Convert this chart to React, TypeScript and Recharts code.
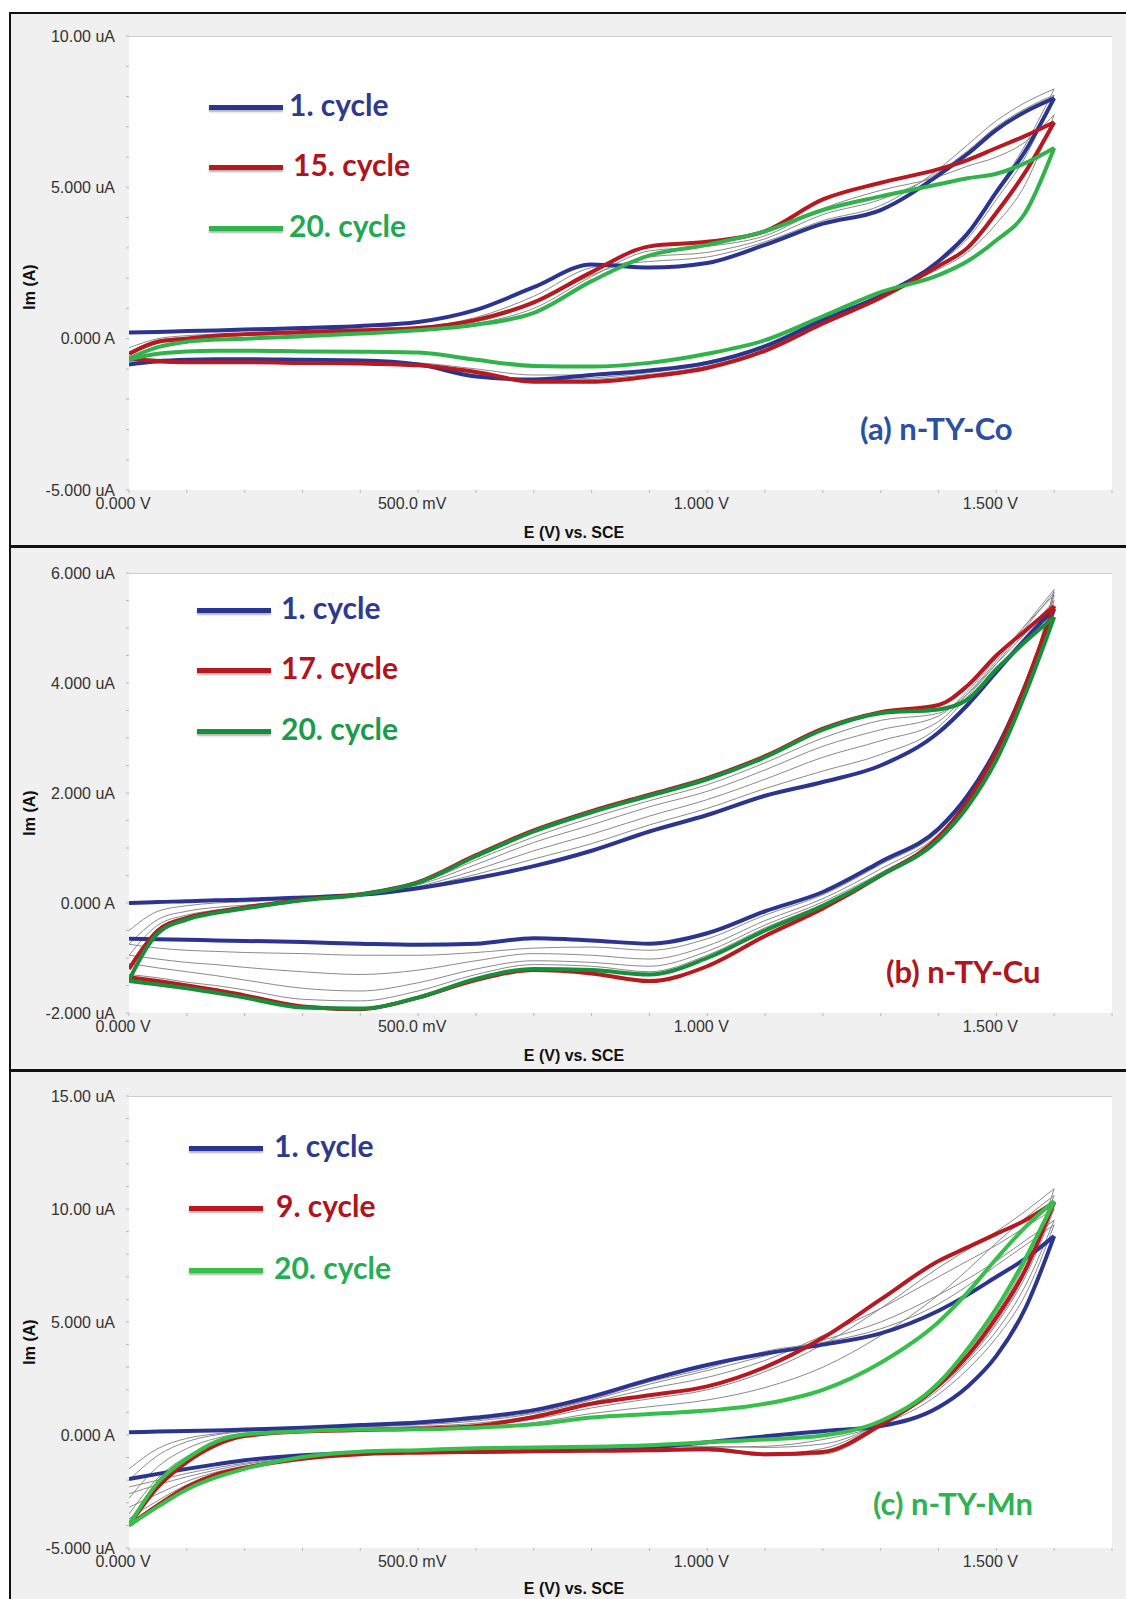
import { LineChart, Line, XAxis, YAxis } from 'recharts';

// potential grid (V) shared by every branch
const potential = [0, 0.05, 0.1, 0.15, 0.2, 0.3, 0.4, 0.5, 0.6, 0.7, 0.8, 0.9, 1.0, 1.1, 1.2, 1.3, 1.4, 1.45, 1.5, 1.55, 1.6];

const eTicks = [0, 0.1, 0.2, 0.3, 0.4, 0.5, 0.6, 0.7, 0.8, 0.9, 1.0, 1.1, 1.2, 1.3, 1.4, 1.5, 1.6, 1.7];
const eLabelValues = [0, 0.5, 1, 1.5];
const eLabels = ['0.000 V', '500.0 mV', '1.000 V', '1.500 V'];

// (a) n-TY-Co, current in uA
const coC1Fwd = [0.2, 0.22, 0.25, 0.27, 0.3, 0.35, 0.42, 0.55, 0.95, 1.7, 2.45, 2.35, 2.5, 3.1, 3.8, 4.25, 5.4, 6.1, 6.9, 7.5, 7.95];
const coC1Rev = [-0.85, -0.75, -0.7, -0.68, -0.68, -0.7, -0.72, -0.85, -1.25, -1.35, -1.2, -1.05, -0.8, -0.25, 0.63, 1.42, 2.56, 3.47, 4.84, 6.2, 7.95];
const coC15Fwd = [-0.5, -0.1, 0.0, 0.1, 0.15, 0.22, 0.28, 0.35, 0.62, 1.2, 2.2, 3.05, 3.2, 3.55, 4.6, 5.15, 5.6, 5.9, 6.3, 6.7, 7.15];
const coC15Rev = [-0.65, -0.75, -0.78, -0.78, -0.78, -0.8, -0.82, -0.88, -1.1, -1.42, -1.42, -1.25, -0.97, -0.4, 0.5, 1.35, 2.4, 3.0, 4.16, 5.5, 7.15];
const coC20Fwd = [-0.65, -0.28, -0.1, -0.03, 0.0, 0.08, 0.17, 0.28, 0.46, 0.85, 1.9, 2.75, 3.1, 3.55, 4.25, 4.7, 5.1, 5.3, 5.45, 5.8, 6.3];
const coC20Rev = [-0.68, -0.5, -0.42, -0.4, -0.4, -0.42, -0.43, -0.46, -0.7, -0.9, -0.92, -0.8, -0.5, -0.05, 0.74, 1.54, 2.1, 2.56, 3.25, 4.16, 6.3];
const coG1Fwd = [-0.3, 0.0, 0.1, 0.15, 0.18, 0.22, 0.28, 0.38, 0.7, 1.4, 2.35, 2.55, 2.7, 3.2, 3.9, 4.4, 5.6, 6.4, 7.2, 7.8, 8.25];
const coG1Rev = [-0.75, -0.8, -0.8, -0.8, -0.8, -0.82, -0.85, -0.92, -1.2, -1.38, -1.3, -1.12, -0.85, -0.3, 0.6, 1.45, 2.6, 3.5, 4.9, 6.4, 8.25];
const coG2Fwd = [-0.45, -0.05, 0.05, 0.1, 0.13, 0.18, 0.24, 0.32, 0.55, 1.15, 2.1, 2.7, 2.85, 3.3, 4.1, 4.6, 5.5, 6.2, 7.0, 7.6, 8.05];
const coG2Rev = [-0.7, -0.78, -0.8, -0.8, -0.8, -0.82, -0.84, -0.9, -1.15, -1.4, -1.35, -1.18, -0.9, -0.35, 0.55, 1.4, 2.5, 3.3, 4.6, 6.0, 8.05];
const coG3Fwd = [-0.55, -0.15, -0.02, 0.05, 0.1, 0.15, 0.22, 0.3, 0.5, 1.0, 2.05, 2.9, 3.05, 3.4, 4.3, 4.9, 5.35, 5.7, 6.0, 6.5, 7.4];
const coG3Rev = [-0.65, -0.68, -0.7, -0.7, -0.7, -0.72, -0.75, -0.8, -1.0, -1.2, -1.2, -1.05, -0.75, -0.25, 0.6, 1.45, 2.3, 2.85, 3.8, 5.1, 7.4];
const coYTicks = [-5, -4, -3, -2, -1, 0, 1, 2, 3, 4, 5, 6, 7, 8, 9, 10];
const coYLabelValues = [-5, 0, 5, 10];
const coYLabels = ['-5.000 uA', '0.000 A', '5.000 uA', '10.00 uA'];

// (b) n-TY-Cu
const cuC1Fwd = [0.0, 0.02, 0.03, 0.05, 0.06, 0.1, 0.15, 0.27, 0.45, 0.67, 0.95, 1.3, 1.6, 1.95, 2.2, 2.5, 3.1, 3.6, 4.2, 4.8, 5.35];
const cuC1Rev = [-0.65, -0.66, -0.67, -0.68, -0.69, -0.71, -0.74, -0.76, -0.74, -0.64, -0.68, -0.74, -0.55, -0.15, 0.2, 0.75, 1.35, 1.95, 2.8, 3.95, 5.35];
const cuC17Fwd = [-1.2, -0.5, -0.27, -0.16, -0.08, 0.06, 0.16, 0.38, 0.87, 1.32, 1.67, 1.97, 2.27, 2.67, 3.17, 3.47, 3.6, 3.95, 4.5, 4.95, 5.4];
const cuC17Rev = [-1.35, -1.42, -1.5, -1.58, -1.68, -1.88, -1.93, -1.72, -1.4, -1.22, -1.28, -1.42, -1.15, -0.6, -0.1, 0.5, 1.2, 1.85, 2.75, 3.95, 5.4];
const cuC20Fwd = [-1.4, -0.55, -0.3, -0.18, -0.1, 0.05, 0.15, 0.37, 0.85, 1.3, 1.65, 1.95, 2.25, 2.65, 3.15, 3.45, 3.52, 3.7, 4.25, 4.75, 5.2];
const cuC20Rev = [-1.42, -1.48, -1.55, -1.63, -1.72, -1.9, -1.92, -1.72, -1.38, -1.2, -1.22, -1.3, -1.0, -0.5, -0.05, 0.5, 1.15, 1.75, 2.6, 3.8, 5.2];
const cuG1Fwd = [-0.5, -0.15, -0.05, 0.0, 0.02, 0.08, 0.14, 0.28, 0.52, 0.8, 1.08, 1.42, 1.72, 2.08, 2.4, 2.7, 3.2, 3.75, 4.35, 5.0, 5.65];
const cuG1Rev = [-0.75, -0.82, -0.86, -0.88, -0.9, -0.92, -0.95, -0.95, -0.9, -0.82, -0.8, -0.86, -0.65, -0.22, 0.15, 0.7, 1.3, 1.9, 2.75, 3.9, 5.65];
const cuG2Fwd = [-0.75, -0.3, -0.15, -0.08, -0.04, 0.05, 0.14, 0.3, 0.6, 0.95, 1.25, 1.58, 1.88, 2.25, 2.65, 2.95, 3.3, 3.8, 4.4, 5.05, 5.7];
const cuG2Rev = [-0.95, -1.02, -1.08, -1.12, -1.17, -1.25, -1.3, -1.22, -1.05, -0.92, -0.95, -1.02, -0.78, -0.32, 0.08, 0.62, 1.25, 1.85, 2.7, 3.88, 5.7];
const cuG3Fwd = [-0.95, -0.4, -0.22, -0.13, -0.07, 0.05, 0.15, 0.33, 0.7, 1.1, 1.42, 1.75, 2.03, 2.42, 2.85, 3.15, 3.4, 3.85, 4.45, 5.05, 5.6];
const cuG3Rev = [-1.1, -1.18, -1.25, -1.32, -1.4, -1.55, -1.6, -1.45, -1.2, -1.05, -1.08, -1.15, -0.88, -0.4, 0.02, 0.55, 1.2, 1.8, 2.65, 3.85, 5.6];
const cuG4Fwd = [-1.15, -0.48, -0.27, -0.16, -0.09, 0.05, 0.15, 0.35, 0.78, 1.2, 1.55, 1.86, 2.15, 2.55, 3.0, 3.32, 3.45, 3.8, 4.35, 4.9, 5.5];
const cuG4Rev = [-1.3, -1.36, -1.44, -1.5, -1.58, -1.75, -1.78, -1.6, -1.3, -1.12, -1.15, -1.25, -0.95, -0.45, -0.02, 0.52, 1.18, 1.78, 2.65, 3.85, 5.5];
const cuYTicks = [-2, -1.5, -1, -0.5, 0, 0.5, 1, 1.5, 2, 2.5, 3, 3.5, 4, 4.5, 5, 5.5, 6];
const cuYLabelValues = [-2, 0, 2, 4, 6];
const cuYLabels = ['-2.000 uA', '0.000 A', '2.000 uA', '4.000 uA', '6.000 uA'];

// (c) n-TY-Mn
const mnC1Fwd = [0.12, 0.15, 0.18, 0.2, 0.24, 0.32, 0.44, 0.55, 0.77, 1.1, 1.7, 2.45, 3.1, 3.6, 4.0, 4.5, 5.5, 6.2, 7.0, 7.8, 8.8];
const mnC1Rev = [-1.95, -1.72, -1.5, -1.3, -1.12, -0.9, -0.78, -0.75, -0.74, -0.7, -0.65, -0.55, -0.32, -0.06, 0.17, 0.4, 1.23, 2.14, 3.5, 5.6, 8.8];
const mnC9Fwd = [-4.0, -2.3, -1.2, -0.45, -0.05, 0.15, 0.22, 0.28, 0.4, 0.8, 1.38, 1.76, 2.15, 3.0, 4.3, 6.0, 7.7, 8.3, 8.9, 9.5, 10.3];
const mnC9Rev = [-4.0, -3.1, -2.3, -1.75, -1.45, -1.05, -0.85, -0.78, -0.75, -0.72, -0.7, -0.68, -0.62, -0.85, -0.75, 0.45, 2.2, 3.5, 5.2, 7.3, 10.3];
const mnC20Fwd = [-4.0, -2.1, -1.05, -0.3, 0.02, 0.17, 0.24, 0.25, 0.32, 0.47, 0.77, 0.93, 1.08, 1.38, 2.0, 3.2, 5.0, 6.3, 7.8, 9.2, 10.35];
const mnC20Rev = [-4.0, -3.17, -2.41, -1.88, -1.5, -0.97, -0.74, -0.67, -0.59, -0.55, -0.52, -0.45, -0.32, -0.2, -0.02, 0.62, 2.3, 3.8, 5.6, 7.8, 10.35];
const mnG1Fwd = [-2.0, -0.9, -0.3, 0.0, 0.15, 0.25, 0.35, 0.45, 0.62, 0.95, 1.55, 2.25, 2.85, 3.5, 4.2, 5.0, 6.2, 6.9, 7.7, 8.6, 9.5];
const mnG1Rev = [-2.6, -2.2, -1.85, -1.55, -1.3, -1.0, -0.85, -0.8, -0.78, -0.75, -0.72, -0.7, -0.7, -0.85, -0.6, 0.5, 2.0, 3.2, 4.6, 6.6, 9.5];
const mnG2Fwd = [-2.8, -1.4, -0.6, -0.15, 0.08, 0.2, 0.3, 0.38, 0.52, 0.85, 1.45, 2.05, 2.55, 3.3, 4.4, 5.6, 7.0, 7.7, 8.4, 9.2, 10.0];
const mnG2Rev = [-3.2, -2.6, -2.05, -1.65, -1.38, -1.02, -0.87, -0.8, -0.77, -0.73, -0.7, -0.68, -0.7, -0.9, -0.8, 0.4, 2.1, 3.3, 4.9, 7.0, 10.0];
const mnG3Fwd = [-3.5, -1.9, -0.95, -0.35, -0.02, 0.16, 0.25, 0.3, 0.42, 0.7, 1.2, 1.6, 2.0, 2.8, 4.0, 5.6, 7.4, 8.2, 9.0, 9.9, 10.9];
const mnG3Rev = [-3.7, -2.9, -2.2, -1.7, -1.42, -1.02, -0.85, -0.78, -0.75, -0.72, -0.7, -0.68, -0.68, -0.92, -0.85, 0.35, 2.15, 3.4, 5.0, 7.2, 10.9];
const mnG4Fwd = [-1.5, -0.6, -0.15, 0.05, 0.18, 0.28, 0.38, 0.48, 0.68, 1.0, 1.6, 2.35, 2.95, 3.7, 4.1, 4.7, 5.8, 6.6, 7.5, 8.4, 9.3];
const mnG4Rev = [-2.3, -2.0, -1.7, -1.45, -1.25, -0.95, -0.82, -0.78, -0.76, -0.73, -0.7, -0.65, -0.55, -0.5, -0.2, 0.45, 1.8, 2.9, 4.3, 6.2, 9.3];
const mnG5Fwd = [-3.8, -2.2, -1.1, -0.35, 0.0, 0.16, 0.23, 0.27, 0.36, 0.55, 0.95, 1.25, 1.55, 2.1, 3.0, 4.4, 6.2, 7.3, 8.5, 9.6, 10.6];
const mnG5Rev = [-3.9, -3.05, -2.35, -1.8, -1.47, -1.0, -0.8, -0.72, -0.67, -0.62, -0.6, -0.56, -0.5, -0.55, -0.4, 0.55, 2.3, 3.7, 5.4, 7.6, 10.6];
const mnYTicks = [-5, -4, -3, -2, -1, 0, 1, 2, 3, 4, 5, 6, 7, 8, 9, 10, 11, 12, 13, 14, 15];
const mnYLabelValues = [-5, 0, 5, 10, 15];
const mnYLabels = ['-5.000 uA', '0.000 A', '5.000 uA', '10.00 uA', '15.00 uA'];

const BLUE = '#2b3591';
const RED = '#b8181f';
const GRAY = '#8a8a8a';
const AXIS_FONT = '"Liberation Sans", Arial, sans-serif';
const LABEL_FONT = 'Lato, "Open Sans", sans-serif';

const rows = (ys: number[]) => potential.map((e, k) => ({ e, i: ys[k] }));

const pick = (values: number[], labels: string[]) => (v: number) => {
  const k = values.findIndex((t) => Math.abs(t - v) < 1e-6);
  return k < 0 ? '' : labels[k];
};

interface LegendItem { text: string; color: string; lineColor: string; textLeft: number; y: number }

interface PanelCfg {
  top: number;
  height: number;
  plotTop: number;
  plotH: number;
  yDomain: [number, number];
  yTicks: number[];
  yLabelValues: number[];
  yLabels: string[];
  gray: number[][][];
  blue: number[][];
  red: number[][];
  green: number[][];
  greenColor: string;
  lineLeft: number;
  legend: LegendItem[];
  tag: { text: string; color: string; left: number; y: number };
  yTitle: number;
  xTitle: number;
}

const panels: PanelCfg[] = [
  {
    top: 0, height: 547, plotTop: 36, plotH: 454,
    yDomain: [-5, 10], yTicks: coYTicks, yLabelValues: coYLabelValues, yLabels: coYLabels,
    gray: [[coG1Fwd, coG1Rev], [coG2Fwd, coG2Rev], [coG3Fwd, coG3Rev]],
    blue: [coC1Fwd, coC1Rev], red: [coC15Fwd, coC15Rev], green: [coC20Fwd, coC20Rev],
    greenColor: '#2fb34a', lineLeft: 209,
    legend: [
      { text: '1. cycle', color: '#2e3a8f', lineColor: BLUE, textLeft: 289, y: 104 },
      { text: '15. cycle', color: '#b0141c', lineColor: RED, textLeft: 293, y: 164 },
      { text: '20. cycle', color: '#22a852', lineColor: '#2fb34a', textLeft: 289, y: 225 },
    ],
    tag: { text: '(a) n-TY-Co', color: '#2b50a3', left: 860, y: 428 },
    yTitle: 287, xTitle: 533,
  },
  {
    top: 547, height: 524, plotTop: 26, plotH: 440,
    yDomain: [-2, 6], yTicks: cuYTicks, yLabelValues: cuYLabelValues, yLabels: cuYLabels,
    gray: [[cuG1Fwd, cuG1Rev], [cuG2Fwd, cuG2Rev], [cuG3Fwd, cuG3Rev], [cuG4Fwd, cuG4Rev]],
    blue: [cuC1Fwd, cuC1Rev], red: [cuC17Fwd, cuC17Rev], green: [cuC20Fwd, cuC20Rev],
    greenColor: '#178f3a', lineLeft: 197,
    legend: [
      { text: '1. cycle', color: '#2e3a8f', lineColor: BLUE, textLeft: 281, y: 60 },
      { text: '17. cycle', color: '#b0141c', lineColor: RED, textLeft: 281, y: 120 },
      { text: '20. cycle', color: '#1c9a4c', lineColor: '#178f3a', textLeft: 281, y: 181 },
    ],
    tag: { text: '(b) n-TY-Cu', color: '#b0141c', left: 886, y: 424 },
    yTitle: 266, xTitle: 509,
  },
  {
    top: 1071, height: 528, plotTop: 25, plotH: 452,
    yDomain: [-5, 15], yTicks: mnYTicks, yLabelValues: mnYLabelValues, yLabels: mnYLabels,
    gray: [[mnG1Fwd, mnG1Rev], [mnG2Fwd, mnG2Rev], [mnG3Fwd, mnG3Rev], [mnG4Fwd, mnG4Rev], [mnG5Fwd, mnG5Rev]],
    blue: [mnC1Fwd, mnC1Rev], red: [mnC9Fwd, mnC9Rev], green: [mnC20Fwd, mnC20Rev],
    greenColor: '#36bf4a', lineLeft: 189,
    legend: [
      { text: '1. cycle', color: '#2e3a8f', lineColor: BLUE, textLeft: 274, y: 74 },
      { text: '9. cycle', color: '#b0141c', lineColor: RED, textLeft: 276, y: 134 },
      { text: '20. cycle', color: '#24ad55', lineColor: '#36bf4a', textLeft: 274, y: 196 },
    ],
    tag: { text: '(c) n-TY-Mn', color: '#2fb350', left: 873, y: 432 },
    yTitle: 271, xTitle: 518,
  },
];

function CvPanel({ p }: { p: PanelCfg }) {
  const xAxisH = 30;
  const bottom = p.height - p.plotTop - p.plotH - xAxisH;
  const loops = [
    ...p.gray.map((g) => ({ loop: g, color: GRAY, w: 1 })),
    { loop: p.blue, color: BLUE, w: 4 },
    { loop: p.red, color: RED, w: 4 },
    { loop: p.green, color: p.greenColor, w: 4 },
  ];
  const tickStyle = { fill: '#333', fontSize: 16, fontFamily: AXIS_FONT };

  return (
    <div style={{ position: 'absolute', left: 0, top: p.top, width: 1126, height: p.height }}>
      <div style={{
        position: 'absolute', left: 129, top: p.plotTop, width: 983, height: p.plotH,
        background: '#fff', borderTop: '1px solid #cdcdcd', boxSizing: 'border-box'
      }} />
      <div style={{ position: 'absolute', left: 0, top: 0 }}>
        <LineChart width={1126} height={p.height} margin={{ top: p.plotTop, right: 14, bottom, left: 9 }}>
          <XAxis
            dataKey="e"
            type="number"
            domain={[0, 1.7]}
            ticks={eTicks}
            interval={0}
            tickFormatter={pick(eLabelValues, eLabels)}
            axisLine={false}
            tickLine={{ stroke: '#b8b8b8' }}
            tickSize={3}
            tickMargin={5}
            height={xAxisH}
            tick={{ ...tickStyle, dx: -6 }}
            allowDataOverflow
          />
          <YAxis
            type="number"
            domain={p.yDomain}
            ticks={p.yTicks}
            interval={0}
            tickFormatter={pick(p.yLabelValues, p.yLabels)}
            axisLine={false}
            tickLine={{ stroke: '#b8b8b8' }}
            tickSize={3}
            tickMargin={11}
            width={120}
            tick={tickStyle}
            allowDataOverflow
          />
          {loops.flatMap((s, k) =>
            s.loop.map((branch, b) => (
              <Line
                key={`${k}-${b}`}
                data={rows(branch)}
                dataKey="i"
                type="monotone"
                stroke={s.color}
                strokeWidth={s.w}
                dot={false}
                activeDot={false}
                isAnimationActive={false}
              />
            ))
          )}
        </LineChart>
      </div>

      <div style={{
        position: 'absolute', left: 30, top: p.yTitle, transform: 'translate(-50%, -50%) rotate(-90deg)',
        fontFamily: AXIS_FONT, fontWeight: 700, fontSize: 16, color: '#111', whiteSpace: 'nowrap'
      }}>
        Im (A)
      </div>
      <div style={{
        position: 'absolute', left: 574, top: p.xTitle, transform: 'translate(-50%, -50%)',
        fontFamily: AXIS_FONT, fontWeight: 700, fontSize: 16, color: '#111', whiteSpace: 'nowrap'
      }}>
        E (V) vs. SCE
      </div>

      {p.legend.map((item) => (
        <div key={item.text}>
          <div style={{
            position: 'absolute', left: p.lineLeft, top: item.y + 1, width: 74, height: 5,
            background: item.lineColor, boxShadow: '0 2px 2px rgba(0,0,0,0.3)'
          }} />
          <div style={{
            position: 'absolute', left: item.textLeft, top: item.y, transform: 'translateY(-50%)',
            fontFamily: LABEL_FONT, fontWeight: 700, fontSize: 30, lineHeight: 1,
            color: item.color, whiteSpace: 'nowrap'
          }}>
            {item.text}
          </div>
        </div>
      ))}

      <div style={{
        position: 'absolute', left: p.tag.left, top: p.tag.y, transform: 'translateY(-50%)',
        fontFamily: LABEL_FONT, fontWeight: 700, fontSize: 31, lineHeight: 1,
        color: p.tag.color, whiteSpace: 'nowrap'
      }}>
        {p.tag.text}
      </div>
    </div>
  );
}

export default function App() {
  return (
    <div style={{ position: 'absolute', left: 0, top: 0, width: 1126, height: 1599, background: '#fff', overflow: 'hidden' }}>
      <div style={{
        position: 'absolute', left: 9, top: 12, width: 1117, height: 1587,
        background: '#f0f0f0', borderLeft: '2px solid #111', borderTop: '2px solid #111'
      }} />
      {panels.map((p) => (
        <CvPanel key={p.tag.text} p={p} />
      ))}
      <div style={{ position: 'absolute', left: 9, top: 545, width: 1117, height: 3, background: '#111' }} />
      <div style={{ position: 'absolute', left: 9, top: 1069, width: 1117, height: 3, background: '#111' }} />
    </div>
  );
}
